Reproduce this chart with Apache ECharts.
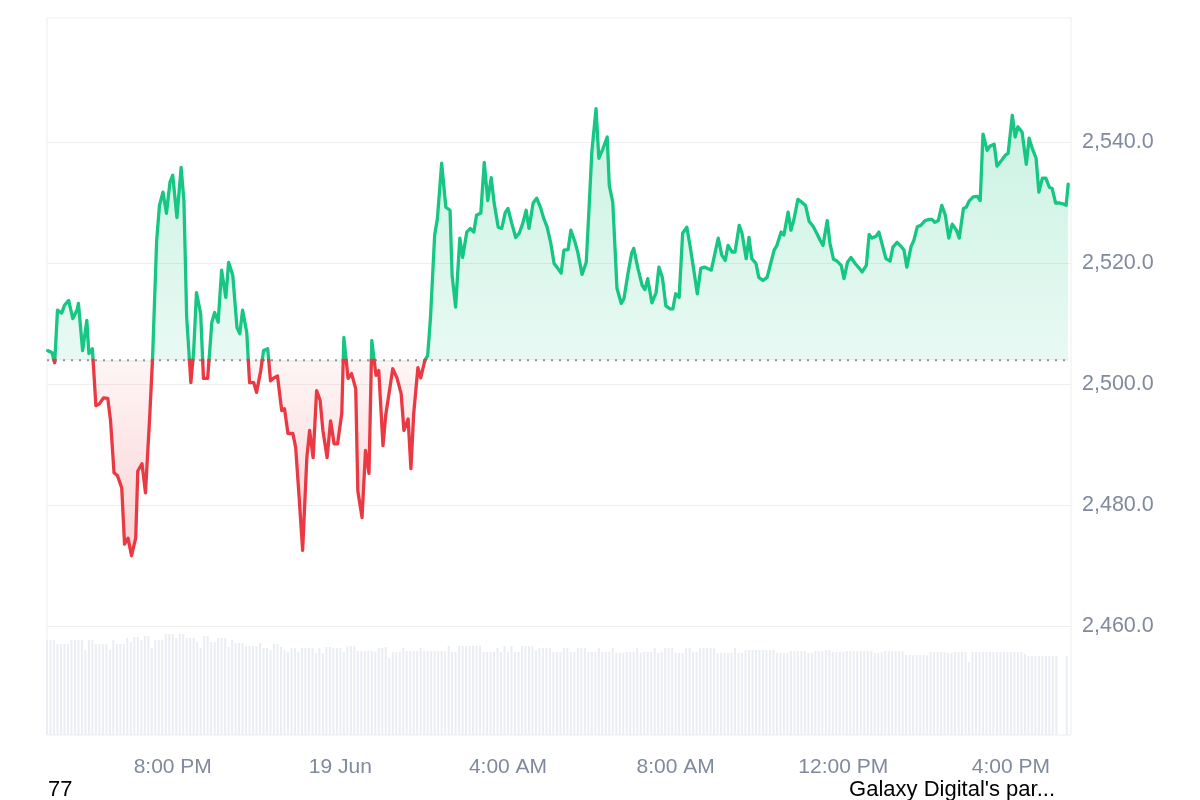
<!DOCTYPE html>
<html>
<head>
<meta charset="utf-8">
<script src="https://cdn.jsdelivr.net/npm/echarts@6/dist/echarts.min.js"></script>
<style>
html,body{margin:0;padding:0;background:#fff;}
#chart{width:1200px;height:800px;}
</style>
</head>
<body>
<div id="chart"></div>
<script>
// ---- Data (times in minutes after 18 Jun 17:00) ----
const BASE = 2504.0;            // reference (opening) price, dotted line
const Y_MIN = 2440, Y_MAX = 2560, Y_STEP = 20;
const T_MAX = 1466;             // right edge of the time axis (minutes)
const LABEL_TIMES = [180, 420, 660, 900, 1140, 1380];
const LABEL_TEXTS = ['8:00 PM', '19 Jun', '4:00 AM', '8:00 AM', '12:00 PM', '4:00 PM'];

const TIMES = [1,7,11,15,21,25,31,37,43,45,51,57,60,65,70,75,81,87,91,96,101,107,111,116,121,127,130,136,141,147,151,157,161,166,171,176,180,186,192,196,200,206,210,214,220,224,230,236,240,245,250,256,260,266,272,276,280,286,290,296,300,306,310,316,320,325,330,336,340,345,352,356,360,366,372,376,381,386,391,395,401,406,411,416,422,425,431,436,442,445,451,456,461,465,471,475,481,485,491,495,501,507,511,517,521,525,531,535,541,545,549,555,559,565,571,577,580,585,591,595,601,606,611,615,621,626,631,636,640,646,651,656,660,665,671,676,681,686,690,696,701,707,711,716,721,726,730,736,740,746,750,756,760,766,772,776,780,786,790,796,802,805,810,816,822,826,832,837,840,846,852,856,860,866,872,876,881,886,892,896,900,905,910,916,921,926,931,936,941,945,951,955,961,966,971,975,981,985,991,995,1001,1005,1009,1015,1019,1025,1031,1036,1041,1045,1051,1055,1061,1065,1069,1075,1081,1086,1091,1097,1102,1107,1111,1117,1121,1126,1131,1137,1141,1146,1151,1157,1163,1167,1173,1177,1181,1187,1191,1196,1201,1207,1211,1217,1223,1227,1231,1237,1241,1246,1251,1257,1263,1267,1271,1276,1281,1286,1291,1296,1302,1306,1312,1316,1320,1326,1332,1336,1340,1346,1350,1356,1360,1367,1372,1376,1382,1386,1390,1396,1402,1406,1410,1416,1420,1425,1430,1435,1439,1444,1450,1456,1459,1462];

const PRICES = [2505.6,2505.3,2503.6,2512.3,2511.8,2513.1,2513.9,2510.9,2512.3,2513.4,2505.6,2510.6,2505.1,2505.9,2496.5,2496.8,2497.8,2497.7,2494.0,2485.4,2484.9,2482.9,2473.6,2474.6,2471.7,2474.6,2485.7,2486.9,2482.1,2494.6,2504.0,2523.8,2529.6,2531.8,2528.3,2533.4,2534.6,2527.6,2535.9,2530.4,2511.1,2500.3,2505.6,2515.2,2511.7,2501.0,2501.0,2510.3,2511.9,2510.3,2518.9,2514.4,2520.2,2518.0,2509.4,2508.4,2512.3,2508.6,2500.3,2500.3,2498.7,2502.3,2505.6,2505.9,2500.6,2501.1,2501.4,2495.7,2496.0,2491.9,2491.9,2489.6,2483.0,2472.6,2487.9,2492.4,2487.9,2499.0,2497.4,2492.4,2487.9,2494.0,2490.2,2490.2,2495.2,2507.8,2501.0,2501.8,2499.3,2482.4,2478.0,2489.1,2485.3,2507.3,2501.5,2502.3,2489.9,2495.0,2499.5,2502.6,2501.1,2498.5,2492.4,2494.3,2486.1,2495.2,2502.8,2501.1,2504.0,2504.8,2511.0,2524.7,2527.5,2536.6,2529.3,2528.8,2518.0,2512.8,2524.2,2521.0,2525.2,2525.8,2525.2,2528.0,2528.3,2536.7,2530.4,2534.2,2530.1,2526.0,2525.8,2528.4,2529.1,2526.8,2524.3,2525.0,2526.6,2528.8,2525.8,2530.0,2530.8,2529.1,2527.5,2526.0,2523.5,2520.0,2519.4,2518.4,2522.2,2522.3,2525.5,2523.5,2521.8,2518.2,2520.2,2529.1,2538.4,2545.6,2537.4,2539.0,2540.9,2532.9,2530.1,2515.9,2513.4,2514.2,2518.5,2521.7,2522.5,2519.2,2516.4,2515.7,2517.5,2513.5,2515.2,2519.4,2517.7,2513.0,2512.5,2512.5,2515.0,2514.4,2525.0,2526.0,2522.7,2518.9,2515.0,2519.2,2519.4,2519.2,2518.9,2521.0,2524.2,2521.4,2520.5,2523.0,2521.9,2521.9,2526.3,2525.0,2520.8,2524.3,2520.8,2520.0,2517.7,2517.2,2517.7,2520.0,2522.2,2523.0,2525.2,2524.7,2528.5,2525.5,2527.1,2530.6,2530.1,2529.6,2527.0,2526.1,2525.0,2523.8,2523.0,2527.1,2523.3,2520.7,2520.4,2519.7,2517.5,2520.2,2521.0,2520.0,2519.2,2518.6,2519.7,2524.8,2524.2,2524.5,2525.2,2523.0,2520.8,2520.4,2522.7,2523.5,2522.8,2522.2,2519.4,2522.8,2523.8,2526.1,2526.3,2527.1,2527.3,2527.3,2526.8,2527.1,2529.6,2528.0,2524.2,2526.5,2525.5,2524.2,2529.1,2529.3,2530.3,2531.0,2531.1,2530.4,2541.4,2538.7,2539.4,2539.7,2536.1,2537.1,2537.9,2538.2,2544.5,2540.9,2542.6,2541.7,2536.4,2540.7,2539.2,2537.4,2531.8,2534.1,2534.1,2532.6,2532.4,2530.0,2530.0,2529.8,2529.6,2533.1];

// volume bars, one every VOL_STEP minutes from 17:00 (relative units)
const VOL_STEP = 5;
const VOLUMES = [95,95,95,91,91,91,91,95,95,95,95,85,95,95,91,91,91,91,85,95,91,91,91,97,93,98,98,95,99,99,87,95,95,95,101,101,101,97,101,101,97,97,97,93,87,99,99,93,93,97,97,97,88,95,92,92,92,89,89,89,89,92,87,87,85,91,91,88,85,83,87,87,83,87,87,87,87,82,87,82,88,88,87,87,87,83,89,89,89,84,84,84,84,84,83,87,87,88,77,83,83,83,87,84,84,84,84,87,84,84,84,84,84,84,84,89,83,83,89,89,89,89,89,89,89,83,83,83,83,87,83,89,83,89,83,83,89,89,89,89,85,87,87,87,87,83,83,83,87,87,83,83,87,87,87,83,83,83,87,83,83,83,87,82,82,82,83,83,83,87,82,83,83,83,87,82,83,87,87,87,82,82,82,87,87,83,83,87,87,87,87,87,82,82,82,82,82,87,82,82,85,85,85,85,85,85,85,85,85,82,82,82,82,84,84,84,84,84,82,82,84,84,84,85,85,83,83,83,83,84,84,84,84,84,84,84,84,82,82,83,84,84,84,84,84,84,80,80,80,80,80,80,80,83,83,83,83,83,82,82,83,83,83,83,73,83,83,83,83,83,83,83,83,83,83,83,83,83,83,83,81,79,79,79,79,79,79,79,79,79,null,null,79];
const VOL_AXIS_MAX = 717;

const BOTTOM_LEFT_TEXT = '77';
const BOTTOM_RIGHT_TEXT = "Galaxy Digital's par...";

// ---- Styling ----
const GREEN = '#16c784', RED = '#ea3943', GRAY = '#808a9d', GRID_LINE = '#eeeeee';
const FONT = '"Liberation Sans", Arial, Helvetica, sans-serif';
const PX_PER_UNIT = 6.05;
const GRID_LEFT = 47, GRID_RIGHT = 129, PRICE_TOP = 21.5;

const priceData = TIMES.map((t, i) => [t, PRICES[i]]);
const volData = VOLUMES.map((v, i) => [i * VOL_STEP, v]);

function fmtPrice(v) {
  return v.toLocaleString('en-US', {minimumFractionDigits: 1, maximumFractionDigits: 1});
}
function fmtTime(v) {
  const idx = LABEL_TIMES.indexOf(Math.round(v));
  return idx >= 0 ? LABEL_TEXTS[idx] : '';
}

const upperH = (Y_MAX - BASE) * PX_PER_UNIT;
const lowerH = (BASE - Y_MIN) * PX_PER_UNIT;
const fullH = (Y_MAX - Y_MIN) * PX_PER_UNIT;

const hiddenX = (gi) => ({type: 'value', gridIndex: gi, min: 0, max: T_MAX, show: false});

const option = {
  animation: false,
  backgroundColor: '#ffffff',
  textStyle: {fontFamily: FONT},
  grid: [
    {left: GRID_LEFT, right: GRID_RIGHT, top: PRICE_TOP, height: fullH, outerBoundsMode: 'none'},
    {left: GRID_LEFT, right: GRID_RIGHT, top: PRICE_TOP, height: upperH, outerBoundsMode: 'none'},
    {left: GRID_LEFT, right: GRID_RIGHT, top: PRICE_TOP + upperH, height: lowerH, outerBoundsMode: 'none'},
    {left: GRID_LEFT, right: GRID_RIGHT, top: 18, bottom: 65, show: true, borderColor: GRID_LINE, borderWidth: 1, backgroundColor: 'transparent', outerBoundsMode: 'none'}
  ],
  xAxis: [
    hiddenX(0), hiddenX(1), hiddenX(2),
    {
      type: 'value', gridIndex: 3, min: 0, max: T_MAX, interval: 60,
      axisLine: {show: false}, axisTick: {show: false}, splitLine: {show: false},
      axisLabel: {color: GRAY, fontSize: 21, fontFamily: FONT, margin: 22, formatter: fmtTime, hideOverlap: false, showMinLabel: true, showMaxLabel: false}
    }
  ],
  yAxis: [
    {
      type: 'value', gridIndex: 0, position: 'right', min: Y_MIN, max: Y_MAX, interval: Y_STEP,
      axisLine: {show: false}, axisTick: {show: false},
      splitLine: {show: true, lineStyle: {width: 1, color: ['transparent', GRID_LINE, GRID_LINE, GRID_LINE, GRID_LINE, GRID_LINE, 'transparent']}},
      axisLabel: {color: GRAY, fontSize: 21.5, fontFamily: FONT, margin: 11,
        formatter: v => (v === Y_MIN || v === Y_MAX) ? '' : fmtPrice(v)}
    },
    {type: 'value', gridIndex: 1, min: BASE, max: Y_MAX, show: false},
    {type: 'value', gridIndex: 2, min: Y_MIN, max: BASE, show: false},
    {type: 'value', gridIndex: 3, min: 0, max: VOL_AXIS_MAX, show: false}
  ],
  series: [
    {
      name: 'base', type: 'line', xAxisIndex: 0, yAxisIndex: 0, z: 1, silent: true,
      symbol: 'none', data: [[0, BASE], [TIMES[TIMES.length - 1], BASE]],
      lineStyle: {color: '#9b9595', width: 2, type: [2, 6]}
    },
    {
      name: 'up', type: 'line', xAxisIndex: 1, yAxisIndex: 1, z: 2, clip: true, silent: true,
      symbol: 'none', showSymbol: false, data: priceData,
      lineStyle: {color: GREEN, width: 3.3, join: 'round', cap: 'round'},
      areaStyle: {origin: 'start', color: 'rgba(22,199,132,0.2)'}
    },
    {
      name: 'down', type: 'line', xAxisIndex: 2, yAxisIndex: 2, z: 2, clip: true, silent: true,
      symbol: 'none', showSymbol: false, data: priceData,
      lineStyle: {color: RED, width: 3.3, join: 'round', cap: 'round'},
      areaStyle: {origin: 'end', color: 'rgba(234,57,67,0.15)'}
    },
    {
      name: 'volume', type: 'bar', xAxisIndex: 3, yAxisIndex: 3, z: 0, silent: true,
      barWidth: 2, data: volData, itemStyle: {color: '#eaedf2'}
    }
  ],
  graphic: [
    {type: 'text', left: 48, top: 779, style: {text: BOTTOM_LEFT_TEXT, font: '22px ' + FONT, fill: '#000'}},
    {type: 'text', right: 145, top: 779, style: {text: BOTTOM_RIGHT_TEXT, font: '22px ' + FONT, fill: '#000'}}
  ]
};

const chart = echarts.init(document.getElementById('chart'), null, {renderer: 'canvas'});
chart.setOption(option);

// vertical gradients anchored to the plotted price range
const yTop = chart.convertToPixel({gridIndex: 1}, [0, Math.max(...PRICES)])[1];
const yBase = chart.convertToPixel({gridIndex: 1}, [0, BASE])[1];
const yBot = chart.convertToPixel({gridIndex: 2}, [0, Math.min(...PRICES)])[1];
chart.setOption({
  series: [
    {name: 'base'},
    {name: 'up', areaStyle: {origin: 'start', color: {type: 'linear', x: 0, y: yTop, x2: 0, y2: yBase, global: true,
      colorStops: [{offset: 0, color: 'rgba(22,199,132,0.32)'}, {offset: 1, color: 'rgba(22,199,132,0.14)'}]}}},
    {name: 'down', areaStyle: {origin: 'end', color: {type: 'linear', x: 0, y: yBase, x2: 0, y2: yBot, global: true,
      colorStops: [{offset: 0, color: 'rgba(234,57,67,0.07)'}, {offset: 1, color: 'rgba(234,57,67,0.32)'}]}}},
    {name: 'volume'}
  ]
});
</script>
</body>
</html>
